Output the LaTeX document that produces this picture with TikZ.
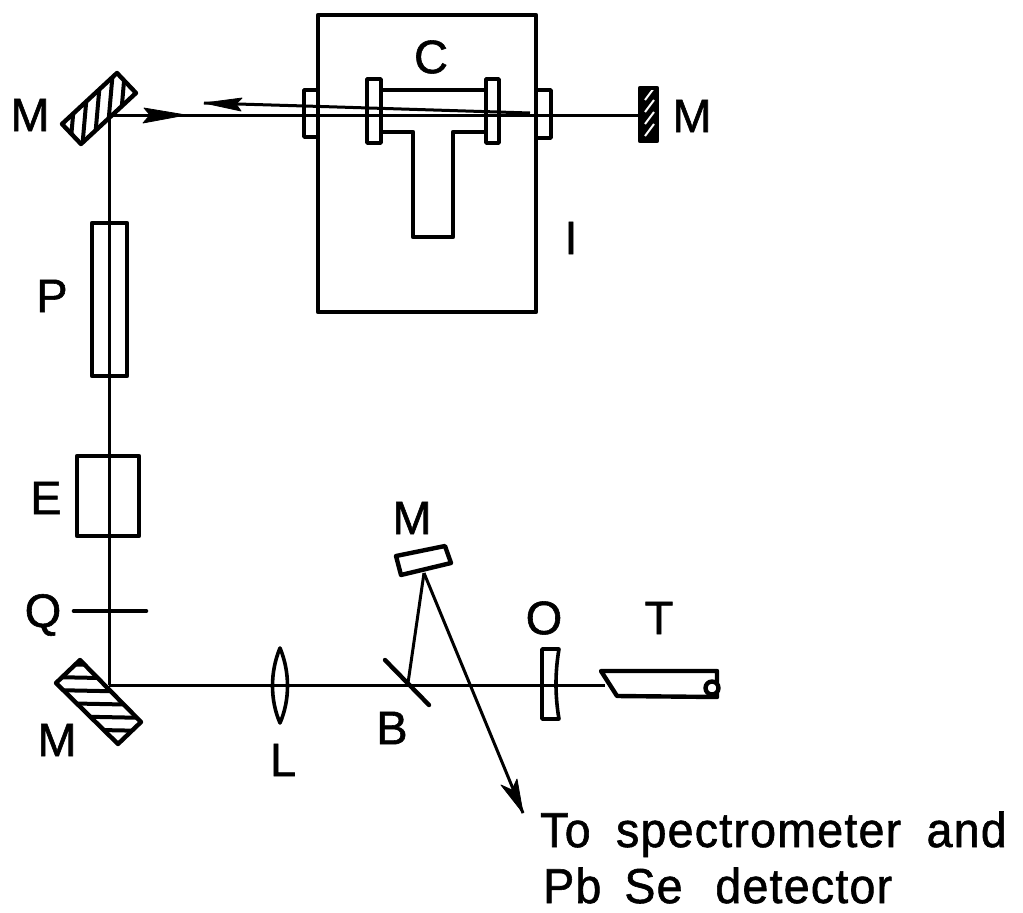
\documentclass[tikz,border=0pt]{standalone}
\usepackage{fontspec}
\setmainfont[FakeBold=1.2]{Liberation Sans}
\newfontfamily\spaced[LetterSpace=2.5,FakeStretch=.95,FakeBold=1.2,WordSpace=1.8]{Liberation Sans}
\tikzset{
  part/.style={draw=black,line width=4.4pt,fill=white,line join=round},
  thin part/.style={draw=black,line width=3.6pt,fill=white,line join=round},
  beam/.style={draw=black,line width=3pt},
  hatchline/.style={draw=black,line width=4pt},
  tiphead/.style={fill=black,draw=black,line width=.8pt,line join=round},
  lab/.style={inner sep=0pt,font=\fontsize{47}{47}\selectfont},
  note/.style={inner sep=0pt,anchor=base west,font=\fontsize{49}{49}\selectfont\spaced}
}
\begin{document}
\begin{tikzpicture}[x=1pt,y=-1pt]
\useasboundingbox (0,0) rectangle (1023,913);
% key points
\coordinate (mtop) at (109,115);
\coordinate (mbot) at (109,685);
\coordinate (mr) at (640,115);
\coordinate (tube) at (605,685);
\coordinate (bs) at (408,683);
\coordinate (ms) at (424,573);
\coordinate (tip) at (523,813);
% beams
\draw[beam] (mbot) -- (mtop);
\draw[beam] (mbot) -- (tube);
\draw[beam] (mtop) -- (mr);
\draw[beam] (204,103) -- (305,106) -- (530,113);
\draw[beam] (bs) -- (ms);
\draw[beam] (ms) -- (tip);
% arrowheads
\fill[tiphead] (186,115) -- (144,108) -- (150,115) -- (143,123) -- cycle;
\fill[tiphead] (204,103) -- (242,98) -- (236,104) -- (241,111) -- cycle;
\fill[tiphead] (tip) -- (501,785) -- (512,790) -- (517,779) -- cycle;
% incubator box
\draw[part,fill=none] (318,15) rectangle (536,312);
% windows
\draw[thin part,fill=none] (318,90) -- (304,90) -- (304,137) -- (318,137);
\draw[thin part,fill=none] (537,90) -- (551,90) -- (551,138) -- (537,138);
% cell
\draw[part,fill=none] (381,90) -- (486,90);
\draw[part,fill=none] (381,132) -- (413,132) -- (413,237) -- (453,237) -- (453,132) -- (486,132);
\draw[thin part,fill=none] (367,79) rectangle (381,143);
\draw[thin part,fill=none] (486,79) rectangle (499,143);
% top-left mirror
\begin{scope}
\clip (117,73) -- (136,93) -- (81,144) -- (62,124) -- cycle;
\foreach \x in {70,82,94,106,118,130}
  \draw[hatchline] (\x,150) -- (\x+7,70);
\end{scope}
\draw[part,fill=none] (117,73) -- (136,93) -- (81,144) -- (62,124) -- cycle;
% right mirror
\fill[black] (640,88) rectangle (657,141);
\foreach \y in {100,112,124,136}
  \draw[white,line width=2pt] (645,\y) -- (654,\y-12);
\draw[part,fill=none] (640,88) rectangle (657,141);
% P, E, Q
\draw[part,fill=none] (92,223) rectangle (127,376);
\draw[part,fill=none] (77,456) rectangle (139,536);
\draw[line width=4.6pt,line cap=round] (74,611) -- (146,611);
% bottom-left mirror
\begin{scope}
\clip (80,660) -- (141,722) -- (118,744) -- (56,683) -- cycle;
\foreach \y in {664,677,690,703,716,729,742}
  \draw[hatchline] (50,\y) -- (150,\y+2);
\end{scope}
\draw[part,fill=none] (80,660) -- (141,722) -- (118,744) -- (56,683) -- cycle;
% lens
\draw[thin part,fill=none] (280,648) .. controls (270,672) and (270,700) .. (280,723)
  .. controls (290,700) and (290,672) .. (280,648) -- cycle;
% beam splitter
\draw[line width=4.4pt,line cap=round] (385,660) -- (429,705);
% small mirror
\draw[part,fill=white] (396,556) -- (445,546) -- (451,563) -- (401,575) -- cycle;
% output coupler
\draw[thin part,fill=none] (542,649) -- (559,649) .. controls (555,672) and (555,696) .. (559,719) -- (542,719) -- cycle;
% tube
\draw[part,fill=white] (601,671) -- (717,671) -- (717,697) -- (617,696) -- cycle;
\draw[part,fill=white] (712,688) circle (6.5);
% labels
\node[lab] (lM1) at (30,115) {M};
\node[lab] (lC) at (431,57) {C};
\node[lab] (lM2) at (692,116) {M};
\node[lab] (lI) at (571,238) {I};
\node[lab] (lP) at (52,296) {P};
\node[lab] (lE) at (46,498) {E};
\node[lab] (lQ) at (43,615) {Q};
\node[lab] (lM3) at (57,740) {M};
\node[lab] (lL) at (283,760) {L};
\node[lab] (lB) at (392,728) {B};
\node[lab] (lM4) at (412,518) {M};
\node[lab] (lO) at (544,618) {O};
\node[lab] (lT) at (659,618) {T};
\node[note] (n1) at (540,847) {To spectrometer and};
\node[note] (n2) at (543,903) {Pb\hspace{-.05em} Se\hspace{.15em} detector};
\end{tikzpicture}
\end{document}
